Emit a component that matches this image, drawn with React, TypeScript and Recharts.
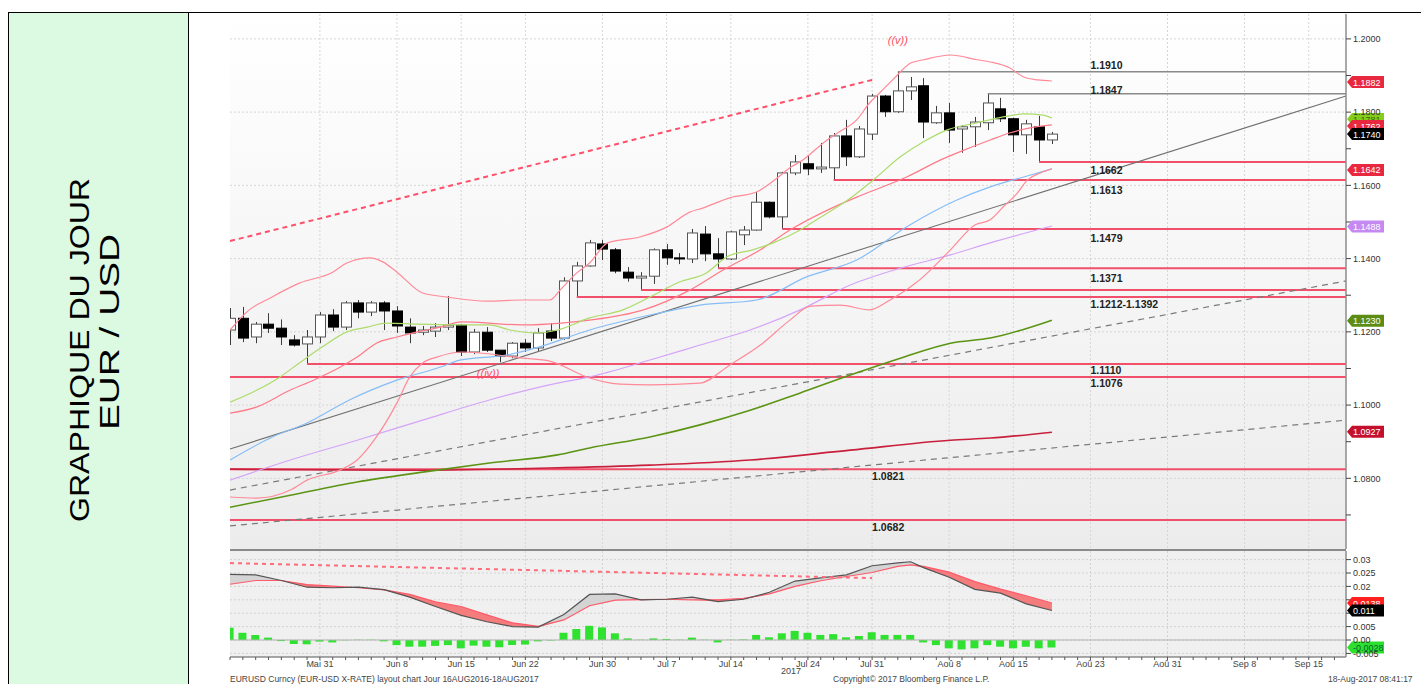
import React from 'react'
import {
  ComposedChart,
  Bar,
  Line,
  Area,
  XAxis,
  YAxis,
  CartesianGrid,
  ReferenceLine,
  ReferenceDot,
} from 'recharts'

// EUR/USD daily candles, index 0 = 22 May 2017, index 64 = 18 Aug 2017
const opens = [
  1.1205, 1.1237, 1.1186, 1.1221, 1.121, 1.1178, 1.1167, 1.1186, 1.1246, 1.1213,
  1.1279, 1.1254, 1.1279, 1.1257, 1.1213, 1.1199, 1.1202, 1.1213, 1.1218, 1.1145,
  1.1199, 1.115, 1.1134, 1.1169, 1.1156, 1.1202, 1.1183, 1.1339, 1.138, 1.144,
  1.1424, 1.1363, 1.1347, 1.1352, 1.1424, 1.1402, 1.1399, 1.1467, 1.1413, 1.1399,
  1.1465, 1.1478, 1.1554, 1.1514, 1.1634, 1.1659, 1.1645, 1.1648, 1.1735, 1.1678,
  1.174, 1.1844, 1.1801, 1.1858, 1.1872, 1.1771, 1.1798, 1.1754, 1.176, 1.1771,
  1.1809, 1.1782, 1.1738, 1.176, 1.1724,
]
const highs = [
  1.1265, 1.1268, 1.1227, 1.1251, 1.1234, 1.1191, 1.1205, 1.1254, 1.1262, 1.1284,
  1.1287, 1.1284, 1.1284, 1.127, 1.1237, 1.1216, 1.1224, 1.1298, 1.1221, 1.1208,
  1.1213, 1.115, 1.1172, 1.118, 1.121, 1.1224, 1.1349, 1.1391, 1.1451, 1.1451,
  1.1429, 1.1377, 1.1363, 1.1428, 1.144, 1.1415, 1.1481, 1.1489, 1.1456, 1.1476,
  1.1489, 1.1582, 1.1556, 1.1637, 1.1683, 1.1683, 1.1716, 1.1743, 1.1779, 1.1762,
  1.185, 1.1847, 1.191, 1.1896, 1.1893, 1.1817, 1.1825, 1.1765, 1.1787, 1.185,
  1.1839, 1.1785, 1.1779, 1.179, 1.1746,
]
const lows = [
  1.1164, 1.1172, 1.1169, 1.1197, 1.1164, 1.116, 1.1112, 1.1169, 1.1202, 1.1205,
  1.1237, 1.1243, 1.1205, 1.1197, 1.1169, 1.1191, 1.1186, 1.1205, 1.1134, 1.1139,
  1.1145, 1.1117, 1.1128, 1.1145, 1.1148, 1.1175, 1.1178, 1.1295, 1.1378, 1.1396,
  1.136, 1.1337, 1.1314, 1.1331, 1.1383, 1.1385, 1.1388, 1.1393, 1.1374, 1.1396,
  1.1437, 1.1476, 1.151, 1.1481, 1.1628, 1.1628, 1.1634, 1.1615, 1.1653, 1.1675,
  1.1724, 1.1787, 1.1798, 1.1833, 1.1729, 1.1768, 1.1716, 1.1689, 1.1705, 1.1751,
  1.1773, 1.1691, 1.1686, 1.1664, 1.1713,
]
const closes = [
  1.1237, 1.1183, 1.1221, 1.121, 1.1186, 1.1164, 1.1186, 1.1246, 1.1213, 1.1279,
  1.1254, 1.1279, 1.1257, 1.1216, 1.1197, 1.1205, 1.1213, 1.1218, 1.1145, 1.1199,
  1.115, 1.1134, 1.1169, 1.1156, 1.1197, 1.1183, 1.1339, 1.138, 1.1443, 1.1426,
  1.1366, 1.1347, 1.1352, 1.1424, 1.1402, 1.1399, 1.147, 1.1413, 1.1399, 1.1473,
  1.1478, 1.1554, 1.1514, 1.1634, 1.1664, 1.1645, 1.165, 1.1735, 1.1678, 1.1754,
  1.1844, 1.1801, 1.1858, 1.1869, 1.1773, 1.1798, 1.1751, 1.176, 1.1773, 1.1825,
  1.1782, 1.1738, 1.1768, 1.1724, 1.174,
]

// date axis
const tickIdx = [7, 13, 18, 23, 29, 34, 39, 45, 50, 56, 61, 67, 73, 79, 84]
const tickLbl = [
  'Mai 31', 'Jun 8', 'Jun 15', 'Jun 22', 'Jun 30', 'Jul 7', 'Jul 14', 'Jul 24',
  'Jul 31', 'Aoû 8', 'Aoû 15', 'Aoû 23', 'Aoû 31', 'Sep 8', 'Sep 15',
]

// studies, [day index, value]
const bbUpper: [number, number][] = [
  [0, 1.1205], [1.5, 1.126], [3.1, 1.1292], [5.4, 1.1333], [8, 1.1363], [9.1, 1.1388],
  [10.9, 1.1402], [11.9, 1.1391], [13, 1.1363], [15, 1.1306], [16.9, 1.1295], [20, 1.1284],
  [22.8, 1.1287], [24.9, 1.1287], [25.7, 1.1314], [27, 1.1361], [28, 1.1388], [29.4, 1.1443],
  [31.9, 1.1459], [34, 1.1486], [35.8, 1.1527], [36.8, 1.1538], [38.9, 1.1566], [41, 1.1582],
  [42.6, 1.162], [43.6, 1.1648], [44.6, 1.1669], [46.2, 1.1716], [47.3, 1.1743], [48.8, 1.1779],
  [49.8, 1.1825], [50.6, 1.1853], [51.6, 1.1888], [53, 1.1934], [54, 1.1943], [56.1, 1.1956],
  [58.2, 1.1943], [59.2, 1.1937], [60.7, 1.1921], [61.8, 1.1896], [62.9, 1.1888], [64, 1.1885],
]
const bbLower: [number, number][] = [
  [0, 1.0749], [2.1, 1.0746], [4.7, 1.0768], [6, 1.0795], [8.6, 1.0823], [9.9, 1.085],
  [11.4, 1.0913], [13, 1.1006], [14, 1.1077], [15, 1.1115], [16.1, 1.1131], [18.1, 1.1145],
  [22.8, 1.1128], [24.9, 1.112], [28, 1.1074], [30.4, 1.1057], [32.7, 1.1055], [36.6, 1.106],
  [38.9, 1.1109], [41.3, 1.1164], [43.6, 1.1232], [45.2, 1.127], [47.5, 1.1273], [49.8, 1.126],
  [51.4, 1.1287], [53.7, 1.1342], [56.1, 1.1424], [58, 1.1492], [59.2, 1.1506], [60.2, 1.1541],
  [61.3, 1.1579], [62.1, 1.1615], [63.1, 1.1634], [64, 1.1645],
]
const maGreen: [number, number][] = [
  [0, 1.1008], [2.1, 1.1041], [3.9, 1.1077], [5.4, 1.1115], [7.2, 1.1159], [9.1, 1.12],
  [10.7, 1.1213], [12.2, 1.1224], [14.6, 1.1221], [17.7, 1.1219], [20.2, 1.1219], [21.8, 1.1205],
  [23.9, 1.1197], [25.5, 1.1205], [28, 1.1238], [30.6, 1.126], [32.7, 1.1295], [35, 1.1336],
  [37.1, 1.1361], [38.7, 1.1405], [40.7, 1.1424], [42.3, 1.1443], [44.4, 1.1478], [45.9, 1.1511],
  [48.1, 1.156], [50.1, 1.1615], [52.2, 1.1678], [54, 1.1719], [55.8, 1.1751], [58.2, 1.1771],
  [60.2, 1.1787], [61.8, 1.1795], [63.3, 1.1792], [64, 1.1784],
]
const maPink: [number, number][] = [
  [0, 1.0978], [2.1, 1.0995], [4.7, 1.1041], [6.5, 1.1068], [8.6, 1.1104], [9.9, 1.1131],
  [11.4, 1.1169], [13, 1.1186], [14.6, 1.12], [16.4, 1.1213], [18, 1.1227], [22.8, 1.1219],
  [25.8, 1.1224], [28, 1.1232], [32.2, 1.126], [35.8, 1.1314], [38.4, 1.1369], [41.3, 1.1424],
  [43.6, 1.1478], [46.2, 1.1527], [48.8, 1.1568], [50.6, 1.1593], [52.7, 1.1623], [55.3, 1.1669],
  [57.2, 1.1697], [59.2, 1.1724], [60.7, 1.1743], [62.3, 1.1757], [64, 1.1765],
]
const maBlue: [number, number][] = [
  [0, 1.085], [3.3, 1.0913], [6, 1.0951], [9.3, 1.1014], [13, 1.1068], [16.4, 1.1104],
  [17.9, 1.1123], [21.6, 1.1137], [24.1, 1.1159], [28, 1.1205], [32.7, 1.1246], [36.6, 1.1273],
  [41, 1.1287], [44.9, 1.135], [48.8, 1.1396], [52.7, 1.1487], [56.6, 1.156], [59.2, 1.1596],
  [61.8, 1.1623], [64, 1.1645],
]
const maPurple: [number, number][] = [
  [0, 1.0795], [4.7, 1.085], [9.9, 1.0904], [15, 1.0959], [20.2, 1.1014], [25.5, 1.106],
  [28, 1.1077], [32.7, 1.1123], [36.6, 1.1164], [40.5, 1.1205], [44.4, 1.126], [48.3, 1.1328],
  [52.2, 1.1374], [56.1, 1.141], [59.2, 1.1443], [64, 1.1489],
]
const maOlive: [number, number][] = [
  [0, 1.0721], [4.7, 1.0754], [9.9, 1.079], [15, 1.0817], [20.2, 1.0842], [25.5, 1.0864],
  [28, 1.0883], [32.7, 1.0913], [36.6, 1.0946], [40.5, 1.0986], [44.4, 1.1033], [48.3, 1.1082],
  [52.2, 1.1128], [56.1, 1.1169], [59.2, 1.1183], [64, 1.1232],
]
const maDarkRed: [number, number][] = [
  [0, 1.0825], [13.2, 1.0822], [24.9, 1.0828], [32.7, 1.0836], [40.5, 1.085], [48.3, 1.0877],
  [56.1, 1.0904], [59.2, 1.091], [64, 1.0926],
]

// drawn trend lines, [[x0, y0], [x1, y1]]
const trendSolid: [number, number][] = [[0, 1.088], [86.9, 1.1844]]
const trendDashHi: [number, number][] = [[0, 1.0768], [86.9, 1.1339]]
const trendDashLo: [number, number][] = [[0, 1.067], [86.9, 1.0959]]
const channelTop: [number, number][] = [[0, 1.1448], [50, 1.1888]]

// horizontal levels [start index, price]
const grayLevels: [number, number][] = [[52, 1.191], [59, 1.185]]
const redLevels: [number, number][] = [
  [63, 1.1664], [47, 1.1615], [43, 1.1481], [38, 1.1374], [32, 1.1314], [27, 1.1295],
  [6, 1.1112], [0, 1.1077], [0, 1.0825], [0, 1.0686],
]
const levelText = [
  '1.1910', '1.1847', '1.1662', '1.1613', '1.1479', '1.1371', '1.1212-1.1392',
  '1.1110', '1.1076', '1.0821', '1.0682',
]
const levelTextAt: [number, number][] = [
  [67, 1.193], [67, 1.1861], [67, 1.1642], [67, 1.1587], [67, 1.1456], [67, 1.1347],
  [67, 1.1276], [67, 1.1096], [67, 1.106], [50, 1.0806], [50, 1.0667],
]

const priceTags = [1.1882, 1.1781, 1.1762, 1.174, 1.1642, 1.1488, 1.123, 1.0927]
const priceTagColor = ['#e8283e', '#86cc1c', '#e8283e', '#000', '#e8283e', '#c48af2', '#5c8c14', '#c4102c']

// MACD panel
const macdIdx = [
  0, 2, 4, 6, 8, 10, 12, 14, 16, 18, 20, 22, 24, 26, 28, 30, 32, 34, 36, 38, 40, 42, 44,
  46, 48, 50, 52, 53, 54, 56, 58, 60, 62, 64,
]
const macdVals = [
  0.0245, 0.0243, 0.0222, 0.0197, 0.0195, 0.0197, 0.0188, 0.016, 0.0125, 0.0092, 0.0068,
  0.005, 0.0048, 0.0095, 0.017, 0.0172, 0.015, 0.0152, 0.016, 0.0143, 0.0152, 0.0178, 0.022,
  0.0232, 0.0243, 0.0277, 0.0288, 0.0292, 0.027, 0.0234, 0.0189, 0.0175, 0.0135, 0.011,
]
const signalVals = [
  0.0208, 0.0222, 0.0222, 0.0207, 0.0201, 0.0195, 0.0187, 0.017, 0.0142, 0.0125, 0.0094,
  0.0064, 0.0051, 0.0075, 0.0128, 0.0149, 0.0151, 0.0152, 0.015, 0.015, 0.0155, 0.0172, 0.02,
  0.0221, 0.0237, 0.0252, 0.0275, 0.028, 0.0275, 0.0253, 0.0218, 0.019, 0.0165, 0.0138,
]
const histVals = [
  0.0046, 0.0027, 0.0019, 0.0009, -0.0004, -0.0015, -0.0016, -0.0006, -0.0009, -0.0001,
  0.0001, 0.0001, -0.0005, -0.0019, -0.0025, -0.0025, -0.0022, -0.0019, -0.0031, -0.0021,
  -0.0025, -0.0027, -0.0019, -0.0017, -0.0005, -0.0002, 0.0027, 0.0041, 0.0053, 0.0047,
  0.0025, 0.0006, 0.0001, 0.0006, 0.0004, 0.0001, 0.0009, 0.0001, -0.0009, 0.0001,
  0.0002, 0.0019, 0.001, 0.0025, 0.0034, 0.0027, 0.0019, 0.0022, 0.001, 0.0015,
  0.0029, 0.0019, 0.0019, 0.0019, -0.0009, -0.0019, -0.0031, -0.0035, -0.0031, -0.0019,
  -0.0025, -0.0031, -0.0025, -0.0031, -0.0028,
]
const macdTrend: [number, number][] = [[0, 0.0287], [50, 0.0231]]
const macdTags = [0.0138, 0.011, -0.0028]
const macdTagColor = ['#ff1f1f', '#000', '#2ee02e']

const FONT = "'Liberation Sans', Arial, sans-serif"
const X_DOMAIN: [number, number] = [0, 86.9]
const PRICE_DOMAIN: [number, number] = [1.0607, 1.2068]
const MACD_DOMAIN: [number, number] = [-0.00634, 0.03321]
const priceTicks = [1.07, 1.08, 1.09, 1.1, 1.11, 1.12, 1.13, 1.14, 1.15, 1.16, 1.17, 1.18, 1.19, 1.2]
const priceGrid = [1.08, 1.1, 1.12, 1.14, 1.16, 1.18, 1.2]
const macdTicks = [-0.005, 0, 0.005, 0.01, 0.015, 0.02, 0.025, 0.03]
// 0.015 and 0.01 sit under the value tags, as in the source
const macdLbl = ['-0.005', '0.00', '0.005', '', '', '0.02', '0.025', '0.03']
const allDays = Array.from({ length: 87 }, (_, i) => i)

const candles = opens.map((o, i) => ({ x: i, o, h: highs[i], l: lows[i], c: closes[i] }))
const rows = (pts: [number, number][]) => pts.map(([x, y]) => ({ x, y }))
const macdRows = macdIdx.map((x, i) => {
  const m = macdVals[i]
  const s = signalVals[i]
  return { x, macd: m, signal: s, above: [s, Math.max(m, s)], below: [Math.min(m, s), s] }
})
const histRows = histVals.map((h, i) => ({ x: i, h }))

function Candle(props: any) {
  const { x, y, width, height, payload } = props
  if (!payload || !isFinite(y) || !isFinite(height)) return null
  const { o, h, l, c } = payload
  const span = h - l || 1e-9
  const toY = (v: number) => y + ((h - v) / span) * height
  const cx = Math.round(x + width / 2) + 0.5
  const top = toY(Math.max(o, c))
  const bot = toY(Math.min(o, c))
  const up = c >= o
  return (
    <g>
      <line x1={cx} x2={cx} y1={y} y2={y + height} stroke="#3c3c3c" strokeWidth={1} />
      <rect
        x={cx - 5}
        y={top}
        width={10}
        height={Math.max(bot - top, 1)}
        fill={up ? '#fff' : '#000'}
        stroke={up ? '#555' : '#000'}
        strokeWidth={1}
      />
    </g>
  )
}

function Tag({ cx, cy, color, text, textColor }: any) {
  return (
    <g>
      <polygon
        points={`${cx + 1},${cy} ${cx + 6},${cy - 6} ${cx + 38},${cy - 6} ${cx + 38},${cy + 6} ${cx + 6},${cy + 6}`}
        fill={color}
      />
      <text x={cx + 7} y={cy + 3.5} fontSize={9} fill={textColor} fontFamily={FONT}>
        {text}
      </text>
    </g>
  )
}

function DayTick(props: any) {
  const { x, y, payload } = props
  const k = tickIdx.indexOf(payload.value)
  if (k < 0) return null
  return (
    <text x={x} y={y} dy={5} textAnchor="middle" fontSize={9} fill="#444" fontFamily={FONT}>
      {tickLbl[k]}
    </text>
  )
}

const studyLine = (pts: [number, number][], stroke: string, w = 1.2) => (
  <Line
    data={rows(pts)}
    dataKey="y"
    type="monotone"
    stroke={stroke}
    strokeWidth={w}
    dot={false}
    activeDot={false}
    isAnimationActive={false}
  />
)

const seg = (p: [number, number][]) => p.map(([x, y]) => ({ x, y }))

export default function App() {
  return (
    <div
      style={{
        position: 'absolute',
        left: 0,
        top: 0,
        width: 1421,
        height: 684,
        overflow: 'hidden',
        background: '#fff',
        fontFamily: FONT,
      }}
    >
      {/* left title panel */}
      <div
        style={{
          position: 'absolute',
          left: 8,
          top: 12,
          width: 181,
          height: 672,
          background: '#dcf9e2',
          borderLeft: '1px solid #000',
          borderRight: '1px solid #000',
          boxSizing: 'border-box',
        }}
      >
        <svg width={180} height={672} style={{ position: 'absolute', left: -1, top: 0 }}>
          <text
            transform="translate(81, 338) rotate(-90)"
            textAnchor="middle"
            fontSize={27}
            fontFamily={FONT}
            fill="#000"
            textLength={344}
            lengthAdjust="spacingAndGlyphs"
          >
            GRAPHIQUE DU JOUR
          </text>
          <text
            transform="translate(111, 320) rotate(-90)"
            textAnchor="middle"
            fontSize={27}
            fontFamily={FONT}
            fill="#000"
            textLength={196}
            lengthAdjust="spacingAndGlyphs"
          >
            EUR / USD
          </text>
        </svg>
      </div>
      <div style={{ position: 'absolute', left: 8, top: 12, width: 1413, height: 1, background: '#000' }} />

      {/* panel backgrounds */}
      <div
        style={{
          position: 'absolute',
          left: 230,
          top: 14,
          width: 1116,
          height: 535,
          background: 'linear-gradient(#ffffff, #ececec)',
        }}
      />
      <div style={{ position: 'absolute', left: 230, top: 551, width: 1116, height: 106, background: '#f0f0f0' }} />
      <div style={{ position: 'absolute', left: 230, top: 549, width: 1116, height: 2, background: '#8a8a8a' }} />

      {/* price panel */}
      <div style={{ position: 'absolute', left: 0, top: 0 }}>
        <ComposedChart
          width={1421}
          height={560}
          data={candles}
          margin={{ top: 14, right: 0, bottom: 11, left: 230 }}
        >
          <CartesianGrid
            horizontalValues={priceGrid}
            verticalValues={tickIdx}
            stroke="#d6d6d6"
            strokeDasharray="2 2"
          />
          <XAxis type="number" dataKey="x" domain={X_DOMAIN} allowDataOverflow hide ticks={tickIdx} />
          <YAxis
            orientation="right"
            type="number"
            domain={PRICE_DOMAIN}
            allowDataOverflow
            ticks={priceTicks}
            interval={0}
            tickFormatter={(v: number) => (priceGrid.includes(v) ? v.toFixed(4) : '')}
            width={75}
            tickSize={5}
            tickMargin={2}
            axisLine={{ stroke: '#8c8c8c', strokeWidth: 1.5 }}
            tickLine={{ stroke: '#444' }}
            tick={{ fontSize: 9, fill: '#333', fontFamily: FONT }}
          />

          {redLevels.map(([x0, v], i) => (
            <ReferenceLine
              key={'r' + i}
              segment={[{ x: x0, y: v }, { x: X_DOMAIN[1], y: v }]}
              stroke="#f2506a"
              strokeWidth={2}
            />
          ))}
          {grayLevels.map(([x0, v], i) => (
            <ReferenceLine
              key={'g' + i}
              segment={[{ x: x0, y: v }, { x: X_DOMAIN[1], y: v }]}
              stroke="#8a8a8a"
              strokeWidth={1.5}
            />
          ))}
          <ReferenceLine segment={seg(trendDashHi)} stroke="#7a7a7a" strokeWidth={1.2} strokeDasharray="6 5" />
          <ReferenceLine segment={seg(trendDashLo)} stroke="#7a7a7a" strokeWidth={1.2} strokeDasharray="6 5" />
          <ReferenceLine segment={seg(trendSolid)} stroke="#707070" strokeWidth={1.1} />
          <ReferenceLine segment={seg(channelTop)} stroke="#ff4f6a" strokeWidth={2} strokeDasharray="5 4" />

          {studyLine(maDarkRed, '#c8203c', 1.6)}
          {studyLine(maOlive, '#5c9414', 1.6)}
          {studyLine(maPurple, '#d4a4f8')}
          {studyLine(maBlue, '#86bdf6')}
          {studyLine(bbLower, '#ff8a98')}
          {studyLine(maPink, '#ff7a88')}
          {studyLine(maGreen, '#acdc6a')}
          {studyLine(bbUpper, '#ff8a98')}

          <Bar
            dataKey={(d: any) => [d.l, d.h]}
            barSize={10}
            shape={(p: any) => <Candle {...p} />}
            isAnimationActive={false}
          />

          {levelText.map((t, i) => (
            <ReferenceDot
              key={'t' + i}
              x={levelTextAt[i][0]}
              y={levelTextAt[i][1]}
              r={0}
              ifOverflow="visible"
              shape={(p: any) => (
                <text
                  x={p.cx}
                  y={p.cy + 4}
                  fontSize={10.5}
                  fontWeight="bold"
                  fill="#222"
                  fontFamily={FONT}
                >
                  {t}
                </text>
              )}
            />
          ))}
          <ReferenceDot
            x={52}
            y={1.1997}
            r={0}
            ifOverflow="visible"
            shape={(p: any) => (
              <text x={p.cx} y={p.cy + 4} textAnchor="middle" fontSize={11} fontStyle="italic" fill="#ff4d5e" fontFamily={FONT}>
                ((v))
              </text>
            )}
          />
          <ReferenceDot
            x={20.1}
            y={1.1087}
            r={0}
            ifOverflow="visible"
            shape={(p: any) => (
              <text x={p.cx} y={p.cy + 4} textAnchor="middle" fontSize={11} fontStyle="italic" fill="#ff4d5e" fontFamily={FONT}>
                ((iv))
              </text>
            )}
          />
          {priceTags.map((v, i) => (
            <ReferenceDot
              key={'pt' + i}
              x={X_DOMAIN[1]}
              y={v}
              r={0}
              ifOverflow="visible"
              shape={(p: any) => (
                <Tag
                  cx={p.cx}
                  cy={p.cy}
                  color={priceTagColor[i]}
                  text={v.toFixed(4)}
                  textColor={i === 1 ? '#3c6a00' : '#fff'}
                />
              )}
            />
          ))}
        </ComposedChart>
      </div>

      {/* MACD panel */}
      <div style={{ position: 'absolute', left: 0, top: 540 }}>
        <ComposedChart
          width={1421}
          height={140}
          data={histRows}
          margin={{ top: 11, right: 0, bottom: 0, left: 230 }}
        >
          <CartesianGrid
            horizontalValues={macdTicks}
            verticalValues={tickIdx}
            stroke="#d2d2d2"
            strokeDasharray="2 2"
          />
          <XAxis
            type="number"
            dataKey="x"
            domain={X_DOMAIN}
            allowDataOverflow
            ticks={allDays}
            interval={0}
            tickSize={3}
            tickMargin={2}
            height={23}
            axisLine={{ stroke: '#555' }}
            tickLine={{ stroke: '#555' }}
            tick={(p: any) => <DayTick {...p} />}
          />
          <YAxis
            orientation="right"
            type="number"
            domain={MACD_DOMAIN}
            allowDataOverflow
            ticks={macdTicks}
            interval={0}
            tickFormatter={(v: number) => macdLbl[macdTicks.indexOf(v)] ?? ''}
            width={75}
            tickSize={5}
            tickMargin={2}
            axisLine={{ stroke: '#8c8c8c', strokeWidth: 1.5 }}
            tickLine={{ stroke: '#444' }}
            tick={{ fontSize: 9, fill: '#333', fontFamily: FONT }}
          />
          <ReferenceLine y={0} stroke="#b4b4b4" />
          <Area
            data={macdRows}
            dataKey="above"
            type="linear"
            fill="#d4d4d4"
            fillOpacity={1}
            stroke="none"
            isAnimationActive={false}
          />
          <Area
            data={macdRows}
            dataKey="below"
            type="linear"
            fill="#f47c7c"
            fillOpacity={1}
            stroke="none"
            isAnimationActive={false}
          />
          <Line
            data={macdRows}
            dataKey="signal"
            type="linear"
            stroke="#ff5a6a"
            strokeWidth={1.2}
            dot={false}
            activeDot={false}
            isAnimationActive={false}
          />
          <Line
            data={macdRows}
            dataKey="macd"
            type="linear"
            stroke="#555"
            strokeWidth={1.2}
            dot={false}
            activeDot={false}
            isAnimationActive={false}
          />
          <Bar dataKey="h" barSize={8} fill="#2fe22f" isAnimationActive={false} />
          <ReferenceLine segment={seg(macdTrend)} stroke="#ff6b7b" strokeWidth={2} strokeDasharray="4 4" />
          {macdTags.map((v, i) => (
            <ReferenceDot
              key={'mt' + i}
              x={X_DOMAIN[1]}
              y={v}
              r={0}
              ifOverflow="visible"
              shape={(p: any) => (
                <Tag
                  cx={p.cx}
                  cy={p.cy}
                  color={macdTagColor[i]}
                  text={String(v)}
                  textColor={i === 2 ? '#063' : '#fff'}
                />
              )}
            />
          ))}
        </ComposedChart>
      </div>

      {/* footer */}
      <div style={{ position: 'absolute', left: 781, top: 666, fontSize: 9, color: '#444' }}>2017</div>
      <div style={{ position: 'absolute', left: 230, top: 674, fontSize: 8.5, color: '#444', whiteSpace: 'nowrap' }}>
        EURUSD Curncy (EUR-USD X-RATE) layout chart  Jour 16AUG2016-18AUG2017
      </div>
      <div style={{ position: 'absolute', left: 833, top: 674, fontSize: 8.5, color: '#444', whiteSpace: 'nowrap' }}>
        Copyright© 2017 Bloomberg Finance L.P.
      </div>
      <div style={{ position: 'absolute', left: 1328, top: 674, fontSize: 8.5, color: '#444', whiteSpace: 'nowrap' }}>
        18-Aug-2017 08:41:17
      </div>
    </div>
  )
}
